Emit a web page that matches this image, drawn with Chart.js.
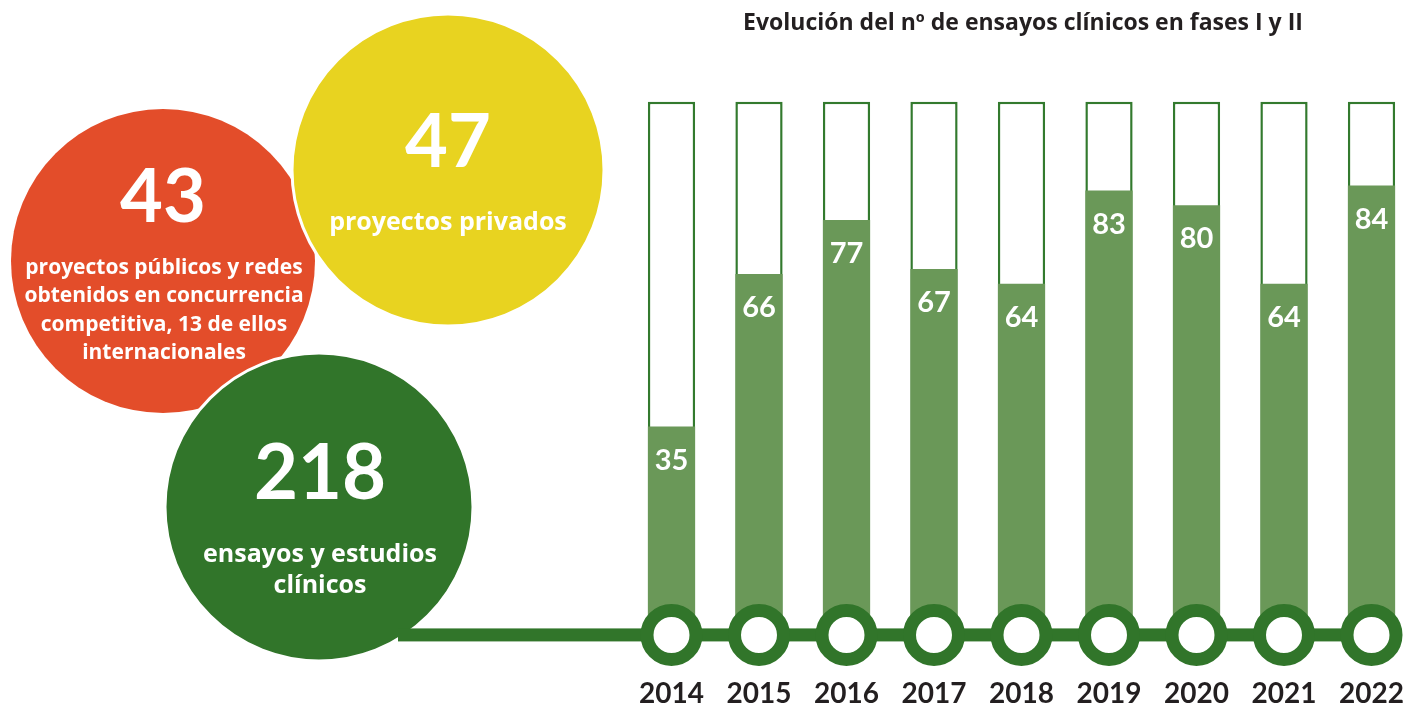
<!DOCTYPE html>
<html>
<head>
<meta charset="utf-8">
<script src="https://cdn.jsdelivr.net/npm/chart.js@4"></script>
<style>
  html, body { margin: 0; padding: 0; background: #fff; overflow: hidden; }
  canvas { display: block; }
</style>
</head>
<body>
<canvas id="ensayos" width="1420" height="709"></canvas>
<script>
const years = ['2014', '2015', '2016', '2017', '2018', '2019', '2020', '2021', '2022'];
const trials = [35, 66, 77, 67, 64, 83, 80, 64, 84];
const title = 'Evolución del nº de ensayos clínicos en fases I y II';

// bubbles on the left: big number + caption lines
const bubbleNumbers = ['43', '47', '218'];
const bubbleCaptions = [
    ['proyectos públicos y redes', 'obtenidos en concurrencia', 'competitiva, 13 de ellos', 'internacionales'],
    ['proyectos privados'],
    ['ensayos y estudios', 'clínicos']
];

const baseline = -7.4;   // where bars start (under the timeline rings)
const frameTop = 101;    // height of the empty bar outline

const NUM_FONT = 'Lato, sans-serif';
const TXT_FONT = '"Open Sans", sans-serif';

const decor = {
    id: 'decor',
    beforeDatasetsDraw(chart) {
        const ctx = chart.ctx;
        const y = chart.scales.y;
        const x = chart.scales.x;
        ctx.save();

        // bubbles
        const bubbles = [
            {x: 163, y: 261, r: 152, color: '#e34d2a', stroke: false},
            {x: 448, y: 170, r: 156, color: '#e8d320', stroke: true},
            {x: 319, y: 507, r: 154, color: '#31752a', stroke: true}
        ];
        bubbles.forEach(b => {
            ctx.beginPath();
            ctx.arc(b.x, b.y, b.r, 0, Math.PI * 2);
            ctx.fillStyle = b.color;
            ctx.fill();
            if (b.stroke) {
                ctx.lineWidth = 3;
                ctx.strokeStyle = '#fff';
                ctx.stroke();
            }
        });

        // timeline
        const ly = y.getPixelForValue(baseline);
        ctx.fillStyle = '#31752a';
        ctx.fillRect(398, ly - 6.5, x.getPixelForValue(years.length - 1) - 398, 13);

        // bubble texts
        ctx.fillStyle = '#fff';
        ctx.textAlign = 'center';
        ctx.textBaseline = 'middle';
        ctx.font = 'bold 74px ' + NUM_FONT;
        ctx.fillText(bubbleNumbers[0], 163, 198);
        ctx.fillText(bubbleNumbers[1], 448, 143);
        ctx.font = 'bold 76px ' + NUM_FONT;
        ctx.fillText(bubbleNumbers[2], 320, 474);

        ctx.font = 'bold 21px ' + TXT_FONT;
        bubbleCaptions[0].forEach((t, i) => ctx.fillText(t, 164, 268 + i * 28.5));
        ctx.font = 'bold 25px ' + TXT_FONT;
        bubbleCaptions[1].forEach((t, i) => ctx.fillText(t, 448, 223 + i * 30));
        bubbleCaptions[2].forEach((t, i) => ctx.fillText(t, 320, 555 + i * 31));

        // title
        ctx.fillStyle = '#231f20';
        ctx.font = 'bold 23px ' + TXT_FONT;
        ctx.fillText(title, 1023, 23);
        ctx.restore();
    },
    afterDatasetsDraw(chart) {
        const ctx = chart.ctx;
        const meta = chart.getDatasetMeta(0);
        ctx.save();
        ctx.textAlign = 'center';
        ctx.textBaseline = 'middle';
        ctx.fillStyle = '#fff';
        ctx.font = 'bold 29px ' + NUM_FONT;
        meta.data.forEach((bar, i) => {
            ctx.fillText(trials[i], bar.x, bar.y + 34);
        });
        ctx.fillStyle = '#231f20';
        ctx.font = 'bold 28px ' + NUM_FONT;
        meta.data.forEach((bar, i) => {
            ctx.fillText(years[i], bar.x, 694);
        });
        ctx.restore();
    }
};

new Chart(document.getElementById('ensayos'), {
    type: 'bar',
    data: {
        labels: years,
        datasets: [
            {
                label: 'Ensayos clínicos fases I y II',
                data: trials,
                base: baseline,
                backgroundColor: '#6a9858',
                borderWidth: 0,
                barPercentage: 0.54,
                categoryPercentage: 1,
                grouped: false,
                order: 1
            },
            {
                label: 'frame',
                data: years.map(() => frameTop),
                base: baseline,
                backgroundColor: '#ffffff',
                borderColor: '#337a2e',
                borderWidth: 2.5,
                barPercentage: 0.54,
                categoryPercentage: 1,
                grouped: false,
                order: 2
            },
            {
                type: 'line',
                label: 'timeline',
                data: years.map(() => baseline),
                showLine: false,
                pointRadius: 24.5,
                pointBorderWidth: 13,
                pointBackgroundColor: '#ffffff',
                pointBorderColor: '#31752a',
                clip: false,
                order: 0
            }
        ]
    },
    options: {
        responsive: false,
        animation: false,
        events: [],
        layout: {
            autoPadding: false,
            padding: {left: 627.75, right: 4.75, top: 82.2, bottom: 61.3}
        },
        plugins: {
            legend: {display: false},
            tooltip: {enabled: false}
        },
        scales: {
            x: {display: false, offset: true},
            y: {display: false, min: -10, max: 105}
        }
    },
    plugins: [decor]
});
</script>
</body>
</html>
